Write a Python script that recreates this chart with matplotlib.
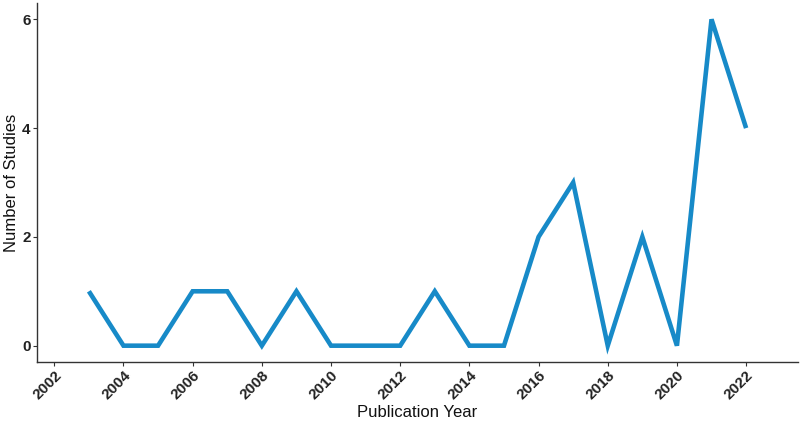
import matplotlib
matplotlib.use("Agg")
import matplotlib.pyplot as plt

years = [2003, 2004, 2005, 2006, 2007, 2008, 2009, 2010, 2011, 2012,
         2013, 2014, 2015, 2016, 2017, 2018, 2019, 2020, 2021, 2022]
studies = [1, 0, 0, 1, 1, 0, 1, 0, 0, 0, 1, 0, 0, 2, 3, 0, 2, 0, 6, 4]
xticks = list(range(2002, 2023, 2))
yticks = [0, 2, 4, 6]

plt.rcParams['font.family'] = ['Liberation Sans', 'DejaVu Sans']

fig = plt.figure(figsize=(8, 4.24), dpi=100)
ax = fig.add_axes([37/800, 1-362/424, (798-37)/800, (362-3)/424])
ax.plot(years, studies, color='#178ac8', linewidth=3.3, solid_joinstyle='miter',
        solid_capstyle='butt')
ax.set_xlim(2001.5, 2023.5)
ax.set_ylim(-0.3, 6.3)
ax.set_xticks(xticks)
ax.set_yticks(yticks)
ax.set_xticklabels([str(x) for x in xticks], rotation=45, ha='right', rotation_mode='anchor',
                   fontsize=11, fontweight='bold', color='#222222')
ax.set_yticklabels([str(y) for y in yticks], fontsize=11, fontweight='bold', color='#222222')
ax.tick_params(axis='both', length=3, width=0.8, color='#333333', pad=1.5)
for s in ['top', 'right']:
    ax.spines[s].set_visible(False)
for s in ['left', 'bottom']:
    ax.spines[s].set_color('#333333')
    ax.spines[s].set_linewidth(1.0)
ax.set_xlabel('Publication Year', fontsize=12, color='#111111', labelpad=2)
ax.set_ylabel('Number of Studies', fontsize=12, color='#111111', labelpad=2)
fig.savefig('out.png', dpi=100)
